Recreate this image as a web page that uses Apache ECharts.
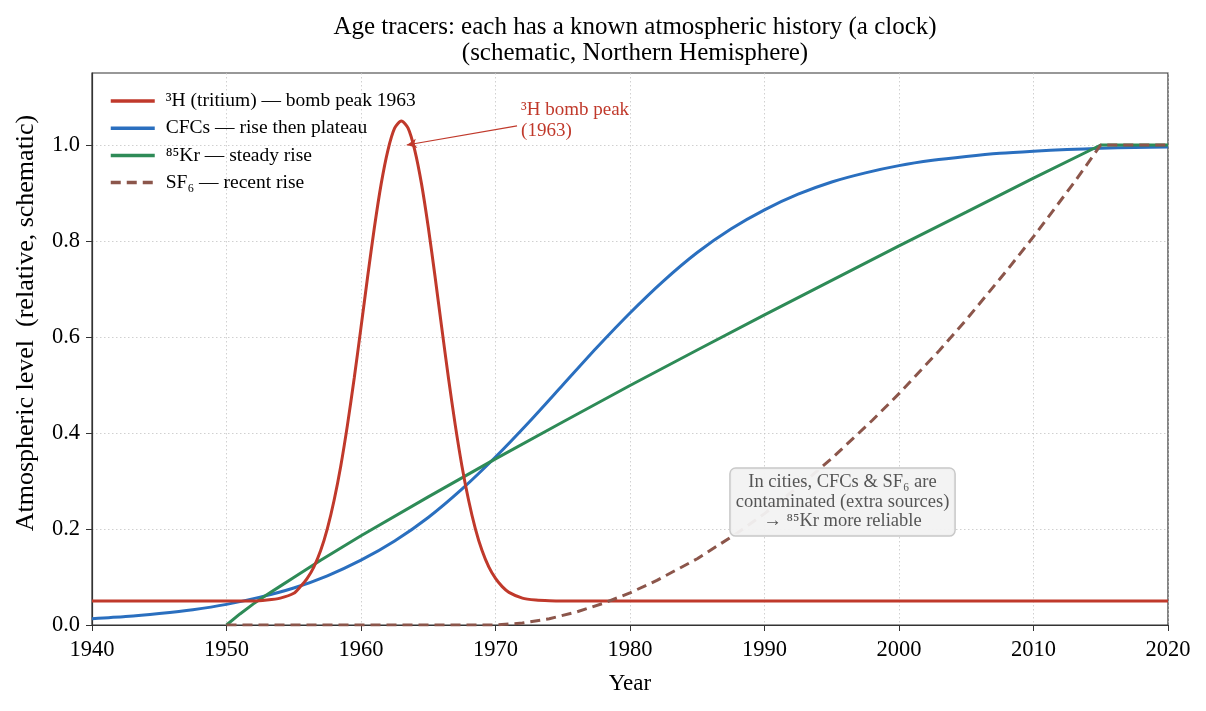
<!DOCTYPE html>
<html>
<head>
<meta charset="utf-8">
<script src="https://cdn.jsdelivr.net/npm/echarts@6/dist/echarts.min.js"></script>
<style>
  html, body { margin: 0; padding: 0; background: #fff; }
  #main { width: 1206px; height: 711px; }
</style>
</head>
<body>
<div id="main"></div>
<script>
// values (schematic curves)
const tritiumYears = [1940, 1945, 1950, 1952, 1953, 1954, 1955, 1955.5, 1956, 1956.5, 1957, 1957.5, 1958, 1958.5,
  1959, 1959.5, 1960, 1960.5, 1961, 1961.5, 1962, 1962.5, 1963, 1963.5, 1964, 1964.5, 1965, 1965.5, 1966,
  1966.5, 1967, 1967.5, 1968, 1968.5, 1969, 1969.5, 1970, 1970.5, 1971, 1972, 1973, 1974, 1975, 1980, 2020]
const tritium = [0.05, 0.05, 0.05, 0.05, 0.052, 0.056, 0.066, 0.080, 0.097, 0.121, 0.155, 0.201, 0.260, 0.332,
  0.418, 0.515, 0.620, 0.727, 0.829, 0.919, 0.989, 1.035, 1.050, 1.035, 0.989, 0.919, 0.829, 0.727, 0.620,
  0.515, 0.418, 0.332, 0.260, 0.201, 0.155, 0.121, 0.097, 0.080, 0.068, 0.056, 0.052, 0.0505, 0.05, 0.05, 0.05]

const cfcYears = [1940, 1942.5, 1945, 1947.5, 1950, 1952.5, 1955, 1957.5, 1960, 1962.5, 1965, 1967.5, 1970, 1972.5,
  1975, 1977.5, 1980, 1982.5, 1985, 1987.5, 1990, 1992.5, 1995, 1997.5, 2000, 2002.5, 2005, 2007.5, 2010, 2012.5,
  2015, 2017.5, 2020]
const cfc = [0.013, 0.0175, 0.024, 0.032, 0.043, 0.058, 0.077, 0.1025, 0.135, 0.175, 0.224, 0.283, 0.35, 0.423,
  0.5, 0.577, 0.65, 0.717, 0.776, 0.825, 0.865, 0.8975, 0.923, 0.942, 0.957, 0.968, 0.976, 0.9826, 0.987, 0.9905,
  0.993, 0.995, 0.996]

const krYears = [1950, 1951, 1952, 1953, 1954, 1955, 1957, 1960, 1965, 1970, 1975, 1980, 1985, 1990, 1995, 2000, 2005, 2010, 2015, 2020]
const kr = [0, 0.023, 0.044, 0.063, 0.081, 0.099, 0.135, 0.186, 0.267, 0.346, 0.423, 0.499, 0.573, 0.646, 0.718, 0.790, 0.860, 0.931, 1.0, 1.0]

const sf6Years = [1950, 1970, 1972, 1974, 1976, 1978, 1980, 1982, 1985, 1988, 1990, 1993, 1995, 1998, 2000, 2003, 2005, 2008, 2010, 2013, 2015, 2020]
const sf6 = [0, 0, 0.004, 0.013, 0.027, 0.045, 0.067, 0.093, 0.138, 0.192, 0.232, 0.299, 0.347, 0.426, 0.482, 0.572, 0.636, 0.738, 0.809, 0.921, 1.0, 1.0]

const xTicks = [1940, 1950, 1960, 1970, 1980, 1990, 2000, 2010, 2020]
const yTicks = [0, 0.2, 0.4, 0.6, 0.8, 1.0]
const yMax = 1.15

const serif = '"Liberation Serif", "DejaVu Serif", serif'
const colors = { h3: '#c0392b', cfc: '#2a6fbf', kr: '#2e8b57', sf6: '#8c564b' }

const zip = (xs, ys) => xs.map((x, i) => [x, ys[i]])
const gridLine = { show: true, lineStyle: { color: '#c4c4c4', type: [1.5, 2.5], width: 0.8 } }

const myChart = echarts.init(document.getElementById('main'))
const option = {
  animation: false,
  backgroundColor: '#fff',
  textStyle: { fontFamily: serif },
  title: {
    text: 'Age tracers: each has a known atmospheric history (a clock)\n(schematic, Northern Hemisphere)',
    left: 630,
    top: 9,
    textAlign: 'center',
    textStyle: { fontFamily: serif, fontSize: 25, fontWeight: 'normal', color: '#000', lineHeight: 26 }
  },
  grid: {
    left: 92, right: 38, top: 73, bottom: 86,
    show: true, borderColor: '#333', borderWidth: 1.2, backgroundColor: 'transparent'
  },
  legend: {
    orient: 'vertical',
    left: 104, top: 86,
    itemWidth: 44, itemHeight: 14, itemGap: 7.2,
    itemStyle: { opacity: 0 },
    lineStyle: { width: 3.5 },
    textStyle: { fontFamily: serif, fontSize: 19.5, color: '#000', padding: [0, 0, 0, 6] },
    data: ['³H (tritium) — bomb peak 1963', 'CFCs — rise then plateau', '⁸⁵Kr — steady rise', 'SF₆ — recent rise']
  },
  xAxis: {
    type: 'value',
    min: xTicks[0], max: xTicks[xTicks.length - 1], interval: 10,
    name: 'Year', nameLocation: 'middle', nameGap: 47,
    nameTextStyle: { fontFamily: serif, fontSize: 23, color: '#000' },
    axisLine: { show: true, lineStyle: { color: '#333', width: 1.2 } },
    axisTick: { show: true, length: 6, lineStyle: { color: '#333' } },
    axisLabel: { fontFamily: serif, fontSize: 22.5, color: '#000', margin: 14, formatter: v => String(v) },
    splitLine: gridLine
  },
  yAxis: {
    type: 'value',
    min: 0, max: yMax, interval: 0.2,
    name: 'Atmospheric level  (relative, schematic)', nameLocation: 'middle', nameGap: 53,
    nameTextStyle: { fontFamily: serif, fontSize: 26, color: '#000', padding: [0, 0, 0, 52] },
    axisLine: { show: true, lineStyle: { color: '#333', width: 1.2 } },
    axisTick: { show: true, length: 6, lineStyle: { color: '#333' }, customValues: yTicks },
    axisLabel: {
      fontFamily: serif, fontSize: 22.5, color: '#000', margin: 12,
      customValues: yTicks,
      formatter: v => Number(v).toFixed(1)
    },
    splitLine: gridLine
  },
  series: [
    {
      name: '³H (tritium) — bomb peak 1963',
      type: 'line', data: zip(tritiumYears, tritium),
      smooth: 0.25, symbol: 'none',
      lineStyle: { color: colors.h3, width: 3 }, itemStyle: { color: colors.h3 },
      z: 4,
      markLine: {
        silent: true, animation: false,
        symbol: ['none', 'arrow'], symbolSize: [7, 10],
        label: { show: false },
        lineStyle: { color: colors.h3, width: 1.2, type: 'solid' },
        data: [[{ coord: [1971.6, 1.04] }, { coord: [1963.4, 1.0] }]]
      }
    },
    {
      name: 'CFCs — rise then plateau',
      type: 'line', data: zip(cfcYears, cfc),
      smooth: 0.25, symbol: 'none',
      lineStyle: { color: colors.cfc, width: 3 }, itemStyle: { color: colors.cfc },
      z: 3
    },
    {
      name: '⁸⁵Kr — steady rise',
      type: 'line', data: zip(krYears, kr),
      symbol: 'none',
      lineStyle: { color: colors.kr, width: 3 }, itemStyle: { color: colors.kr },
      z: 3
    },
    {
      name: 'SF₆ — recent rise',
      type: 'line', data: zip(sf6Years, sf6),
      symbol: 'none',
      lineStyle: { color: colors.sf6, width: 3, type: [10, 6] }, itemStyle: { color: colors.sf6 },
      z: 5
    }
  ]
}
myChart.setOption(option)

// annotations positioned through the axis scales
const peakTxt = myChart.convertToPixel({ gridIndex: 0 }, [1971.9, 1.052])
const noteTxt = myChart.convertToPixel({ gridIndex: 0 }, [1995.8, 0.256])
myChart.setOption({
  graphic: {
    elements: [
      {
        type: 'text', x: peakTxt[0], y: peakTxt[1], z: 10,
        style: {
          text: '³H bomb peak\n(1963)', fill: colors.h3,
          font: '19px ' + serif, lineHeight: 21,
          textAlign: 'left', textVerticalAlign: 'middle'
        }
      },
      {
        type: 'text', x: noteTxt[0], y: noteTxt[1], z: 10,
        style: {
          text: 'In cities, CFCs & SF₆ are\ncontaminated (extra sources)\n→ ⁸⁵Kr more reliable',
          fill: '#555', font: '18.5px ' + serif, lineHeight: 19.5,
          align: 'center', verticalAlign: 'middle',
          backgroundColor: 'rgba(242,242,242,0.95)', borderColor: '#c8c8c8', borderWidth: 1.5,
          borderRadius: 5, padding: [4, 5]
        }
      }
    ]
  }
})
</script>
</body>
</html>
